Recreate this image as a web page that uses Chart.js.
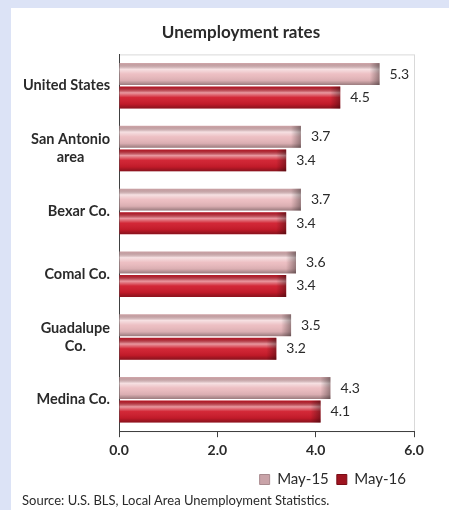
<!DOCTYPE html>
<html lang="en">
<head>
<meta charset="UTF-8">
<title>Unemployment rates</title>
<script src="https://cdn.jsdelivr.net/npm/chart.js"></script>
<style>
  body { margin: 0; background: #dce3f6; }
  #wrap { position: relative; width: 449px; height: 510px; }
  #source { position: absolute; left: 22px; top: 492px; font: 13px Lato, "Open Sans", sans-serif; color: #2a2a2a; white-space: nowrap; }
</style>
</head>
<body>
<div id="wrap">
  <canvas id="myChart" width="449" height="510"></canvas>
  <div id="source">Source: U.S. BLS, Local Area Unemployment Statistics.</div>
</div>
<script>
// data
const areas = ['United States', ['San Antonio', 'area'], 'Bexar Co.', 'Comal Co.', ['Guadalupe', 'Co.'], 'Medina Co.'];
const may15 = [5.3, 3.7, 3.7, 3.6, 3.5, 4.3];
const may16 = [4.5, 3.4, 3.4, 3.4, 3.2, 4.1];
const xTicks = [0, 2, 4, 6];

const FONT = 'Lato, "Open Sans", sans-serif';
const TEXT = '#2a2a2a';

// page background + white panel + light plot frame
const panel = {
    id: 'panel',
    beforeDraw(chart) {
        const c = chart.ctx, a = chart.chartArea;
        c.save();
        c.fillStyle = '#dce3f6';
        c.fillRect(0, 0, chart.width, chart.height);
        c.fillStyle = '#ffffff';
        c.fillRect(11, 8, chart.width - 11, chart.height - 8);
        c.strokeStyle = '#d9d9d9';
        c.lineWidth = 1;
        c.strokeRect(a.left + 0.5, a.top + 0.5, a.right - a.left, a.bottom - a.top);
        c.restore();
    }
};

// glossy look on top of the flat bars + value labels
const gloss = {
    id: 'gloss',
    afterDatasetsDraw(chart) {
        const c = chart.ctx;
        chart.data.datasets.forEach((ds, di) => {
            chart.getDatasetMeta(di).data.forEach((bar, i) => {
                const top = bar.y - bar.height / 2, h = bar.height;
                const left = bar.base, w = bar.x - bar.base;
                const g = c.createLinearGradient(0, top, 0, top + h);
                g.addColorStop(0, 'rgba(0,0,0,0.12)');
                g.addColorStop(0.28, 'rgba(255,255,255,0.55)');
                g.addColorStop(0.5, 'rgba(255,255,255,0.05)');
                g.addColorStop(0.8, 'rgba(0,0,0,0.08)');
                g.addColorStop(1, 'rgba(0,0,0,0.35)');
                c.save();
                c.fillStyle = g;
                c.fillRect(left, top, w, h);
                // end cap shade
                const e = c.createLinearGradient(bar.x - 10, 0, bar.x, 0);
                e.addColorStop(0, 'rgba(0,0,0,0)');
                e.addColorStop(1, 'rgba(0,0,0,0.35)');
                c.fillStyle = e;
                c.fillRect(bar.x - 10, top, 10, h);
                c.fillStyle = TEXT;
                c.font = '14px ' + FONT;
                c.textAlign = 'left';
                c.textBaseline = 'middle';
                c.fillText(ds.data[i].toFixed(1), bar.x + 10, bar.y);
                c.restore();
            });
        });
    }
};

// category labels: single lines right aligned, wrapped ones centred on each other
const catLabels = {
    id: 'catLabels',
    afterDraw(chart) {
        const c = chart.ctx, ys = chart.scales.y;
        const right = chart.chartArea.left - 9;
        c.save();
        c.fillStyle = TEXT;
        c.font = 'bold 14.5px ' + FONT;
        c.textBaseline = 'middle';
        areas.forEach((lab, i) => {
            const y = ys.getPixelForValue(i);
            if (Array.isArray(lab)) {
                const w = Math.max(...lab.map(t => c.measureText(t).width));
                c.textAlign = 'center';
                lab.forEach((t, k) => c.fillText(t, right - w / 2, y + (k - (lab.length - 1) / 2) * 18));
            } else {
                c.textAlign = 'right';
                c.fillText(lab, right, y);
            }
        });
        c.restore();
    }
};

new Chart(document.getElementById('myChart'), {
    type: 'bar',
    data: {
        labels: areas,
        datasets: [
            { label: 'May-15', data: may15, backgroundColor: '#ecbcc0', borderWidth: 0 },
            { label: 'May-16', data: may16, backgroundColor: '#d01c2c', borderWidth: 0 }
        ]
    },
    options: {
        indexAxis: 'y',
        responsive: false,
        animation: false,
        layout: { padding: { left: 68, right: 35, top: 8, bottom: 13 } },
        datasets: { bar: { categoryPercentage: 0.75, barPercentage: 0.93 } },
        scales: {
            x: {
                min: 0, max: 6,
                afterBuildTicks: s => { s.ticks = xTicks.map(v => ({ value: v })); },
                ticks: { color: TEXT, font: { family: FONT, size: 14, weight: 'bold' }, padding: 5,
                         callback: v => Number(v).toFixed(1) },
                grid: { drawOnChartArea: false, tickLength: 6, color: '#404040' },
                border: { color: '#404040', width: 1 }
            },
            y: {
                afterFit: s => { s.width = 51; },
                ticks: { display: false },
                grid: { display: false },
                border: { color: '#404040', width: 1 }
            }
        },
        plugins: {
            title: { display: true, text: 'Unemployment rates', color: TEXT,
                     font: { family: FONT, size: 17, weight: 'bold' }, padding: { top: 14, bottom: 12 } },
            legend: { position: 'bottom', align: 'end',
                      labels: { color: TEXT, font: { family: FONT, size: 15 }, boxWidth: 10, boxHeight: 10, padding: 8,
                                generateLabels: ch => ch.data.datasets.map((d, i) => ({
                                    text: d.label, fillStyle: i ? '#9e1420' : '#c9a3a8',
                                    strokeStyle: i ? '#7a0c16' : '#a88a8e', lineWidth: 1,
                                    fontColor: TEXT, datasetIndex: i })) } },
            tooltip: { enabled: false }
        }
    },
    plugins: [panel, gloss, catLabels]
});
</script>
</body>
</html>
